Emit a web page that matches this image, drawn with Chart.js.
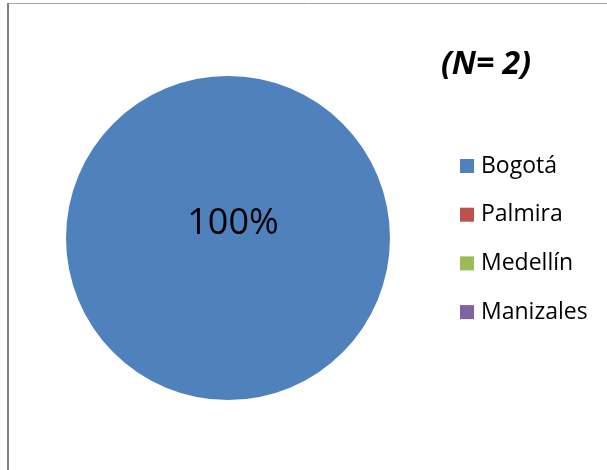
<!DOCTYPE html>
<html>
<head>
<meta charset="utf-8">
<script src="https://cdn.jsdelivr.net/npm/chart.js@4"></script>
<style>
  html, body { margin: 0; padding: 0; background: #fff; }
  #wrap { width: 607px; height: 470px; }
</style>
</head>
<body>
<div id="wrap"><canvas id="pie" width="607" height="470"></canvas></div>
<script>
const cities = ['Bogotá', 'Palmira', 'Medellín', 'Manizales'];
const counts = [2, 0, 0, 0];
const colors = ['#4F81BD', '#C0504D', '#9BBB59', '#8064A2'];
const subtitle = '(N= 2)';

// frame, title, value label and legend drawn on the canvas
const decorations = {
    id: 'decorations',
    beforeDraw(chart) {
        const ctx = chart.ctx;
        ctx.save();
        ctx.fillStyle = '#ffffff';
        ctx.fillRect(0, 0, chart.width, chart.height);
        ctx.strokeStyle = '#a6a6a6';
        ctx.lineWidth = 1;
        ctx.beginPath();
        ctx.moveTo(8, 3.5);
        ctx.lineTo(chart.width, 3.5);
        ctx.stroke();
        ctx.strokeStyle = '#808080';
        ctx.lineWidth = 2;
        ctx.beginPath();
        ctx.moveTo(8, 3);
        ctx.lineTo(8, chart.height);
        ctx.stroke();
        ctx.restore();
    },
    afterDraw(chart) {
        const ctx = chart.ctx;
        const ds = chart.data.datasets[0];
        const total = ds.data.reduce((a, b) => a + b, 0);
        ctx.save();

        // percentage label
        const arc = chart.getDatasetMeta(0).data[0];
        ctx.fillStyle = '#000';
        ctx.textAlign = 'center';
        ctx.textBaseline = 'middle';
        ctx.font = '36px "Open Sans"';
        ctx.fillText(Math.round(ds.data[0] / total * 100) + '%', arc.x + 5, arc.y - 14);

        // subtitle
        ctx.font = 'italic bold 32px "Open Sans"';
        ctx.textAlign = 'left';
        ctx.fillText(subtitle, 441, 65);

        // legend
        ctx.font = '23px "Open Sans"';
        chart.data.labels.forEach((lab, i) => {
            const y = 166 + i * 48.7;
            ctx.fillStyle = ds.backgroundColor[i];
            ctx.fillRect(460, y - 7, 14, 14);
            ctx.fillStyle = '#000';
            ctx.fillText(lab, 481, y);
        });
        ctx.restore();
    }
};

new Chart(document.getElementById('pie').getContext('2d'), {
    type: 'pie',
    data: {
        labels: cities,
        datasets: [{
            data: counts,
            backgroundColor: colors,
            borderWidth: 0
        }]
    },
    options: {
        responsive: false,
        animation: false,
        layout: { padding: { left: 66, right: 217, top: 76, bottom: 70 } },
        plugins: {
            legend: { display: false },
            tooltip: { enabled: false }
        }
    },
    plugins: [decorations]
});
</script>
</body>
</html>
